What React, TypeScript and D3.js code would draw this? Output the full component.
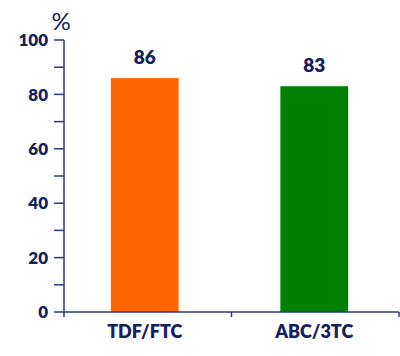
import React from "react";
import * as d3 from "d3";

const categories = ["TDF/FTC", "ABC/3TC"];
const values = [86, 83];
const colors = ["#FF6600", "#008000"];
const yTicks = [0, 20, 40, 60, 80, 100];
const yMinorTicks = [10, 30, 50, 70, 90];

export default function App() {
  const W = 400, H = 356;
  const left = 64, right = 399, top = 40, bottom = 312;
  const navy = "#14215E";
  const axisColor = "#2B3A7E";
  const font = "Lato, 'Open Sans', sans-serif";

  const x = d3.scaleBand<string>().domain(categories).range([left - 4, right]).paddingInner(0.6).paddingOuter(0.3);
  const xc = d3.scaleBand<string>().domain(categories).range([left, right]);
  const y = d3.scaleLinear().domain([0, 100]).range([bottom, top]);

  return (
    <svg width={W} height={H} style={{ position: "absolute", left: 0, top: 0 }} fontFamily={font}>
      <rect width={W} height={H} fill="#fff" />
      {categories.map((c, i) => (
        <g key={c}>
          <rect x={x(c)!} y={y(values[i])} width={x.bandwidth()} height={y(0) - y(values[i])} fill={colors[i]} />
          <text x={x(c)! + x.bandwidth() / 2} y={y(values[i]) - 14} textAnchor="middle" fontSize={19} fontWeight={800} fill={navy}>
            {values[i]}
          </text>
          <text x={x(c)! + x.bandwidth() / 2} y={338} textAnchor="middle" fontSize={18} fontWeight={800} fill={navy}>
            {c}
          </text>
        </g>
      ))}
      <line x1={left} x2={left} y1={top} y2={bottom} stroke={axisColor} strokeWidth={1.5} />
      <line x1={left} x2={right} y1={bottom} y2={bottom} stroke={axisColor} strokeWidth={1.5} />
      {[...categories.map((c) => xc(c)!), right].map((px, i) => (
        <line key={i} x1={px} x2={px} y1={bottom} y2={bottom + 5} stroke={axisColor} strokeWidth={1.5} />
      ))}
      {yTicks.map((t) => (
        <g key={t}>
          <line x1={left - 10} x2={left} y1={y(t)} y2={y(t)} stroke={axisColor} strokeWidth={1.5} />
          <text x={left - 16} y={y(t)} dy="0.36em" textAnchor="end" fontSize={17} fontWeight={800} fill={navy}>
            {t}
          </text>
        </g>
      ))}
      {yMinorTicks.map((t) => (
        <line key={t} x1={left - 10} x2={left} y1={y(t)} y2={y(t)} stroke={axisColor} strokeWidth={1.5} />
      ))}
      <text x={61} y={30} textAnchor="middle" fontSize={24} fill={navy}>%</text>
    </svg>
  );
}
